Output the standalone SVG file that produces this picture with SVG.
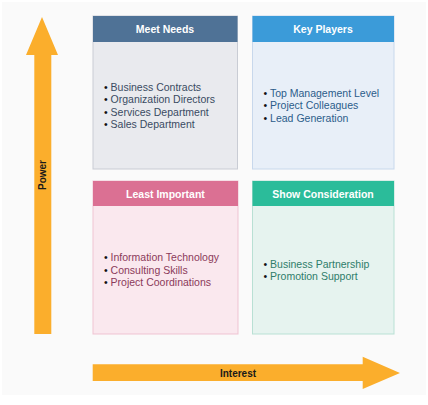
<svg xmlns="http://www.w3.org/2000/svg" width="428" height="405" viewBox="0 0 428 405">
  <style>
    .head { font-family: "Liberation Sans", Arial, sans-serif; font-size: 10.5px; font-weight: bold; fill: #ffffff; text-anchor: middle; }
    .item { font-family: "Liberation Sans", Arial, sans-serif; font-size: 10.5px; }
    .dot { fill: #111111; }
    .axis { font-family: "Liberation Sans", Arial, sans-serif; font-size: 10px; font-weight: bold; fill: #1a1a1a; text-anchor: middle; }
    .arrow { fill: #fbae2c; }
  </style>

  <rect x="0" y="0" width="428" height="405" fill="#ffffff"/>
  <rect x="2" y="2" width="424" height="393" fill="#fafafa"/>

  <!-- axes -->
  <g id="connectors">
    <g id="power-axis">
      <polygon class="arrow" points="42,17 58,55 51.3,55 51.3,334 34.3,334 34.3,55 26,55"/>
      <text class="axis" transform="translate(45.5,175) rotate(-90)">Power</text>
    </g>
    <g id="interest-axis">
      <polygon class="arrow" points="92.7,364.3 362.7,364.3 362.7,356.7 400,373 362.7,389 362.7,381 92.7,381"/>
      <text class="axis" x="238" y="376.5">Interest</text>
    </g>
  </g>

  <!-- quadrant: high power, low interest -->
  <g id="meet-needs">
    <rect x="93" y="16" width="144.5" height="153" fill="#e9eaee" stroke="#c9ccd4" stroke-width="1"/>
    <rect x="93" y="16" width="144.5" height="26" fill="#4f7296"/>
    <text class="head" x="165" y="32.5">Meet Needs</text>
    <g class="item" fill="#3a4a62">
      <text x="104" y="90.5"><tspan class="dot">•</tspan> Business Contracts</text>
      <text x="104" y="103"><tspan class="dot">•</tspan> Organization Directors</text>
      <text x="104" y="115.5"><tspan class="dot">•</tspan> Services Department</text>
      <text x="104" y="128"><tspan class="dot">•</tspan> Sales Department</text>
    </g>
  </g>

  <!-- quadrant: high power, high interest -->
  <g id="key-players">
    <rect x="252.5" y="16" width="141.5" height="153" fill="#e8eff8" stroke="#c8d8ec" stroke-width="1"/>
    <rect x="252.5" y="16" width="141.5" height="26" fill="#3b9bd9"/>
    <text class="head" x="323" y="32.5">Key Players</text>
    <g class="item" fill="#2b5c8a">
      <text x="263.5" y="96.5"><tspan class="dot">•</tspan> Top Management Level</text>
      <text x="263.5" y="109"><tspan class="dot">•</tspan> Project Colleagues</text>
      <text x="263.5" y="121.5"><tspan class="dot">•</tspan> Lead Generation</text>
    </g>
  </g>

  <!-- quadrant: low power, low interest -->
  <g id="least-important">
    <rect x="93" y="181" width="145" height="153" fill="#fae8ee" stroke="#efc3d2" stroke-width="1"/>
    <rect x="93" y="181" width="145" height="25" fill="#db7093"/>
    <text class="head" x="165.5" y="197.5">Least Important</text>
    <g class="item" fill="#8b3a5a">
      <text x="104" y="261"><tspan class="dot">•</tspan> Information Technology</text>
      <text x="104" y="273.5"><tspan class="dot">•</tspan> Consulting Skills</text>
      <text x="104" y="286"><tspan class="dot">•</tspan> Project Coordinations</text>
    </g>
  </g>

  <!-- quadrant: low power, high interest -->
  <g id="show-consideration">
    <rect x="252.5" y="181" width="141.5" height="153" fill="#e6f3ef" stroke="#b9e0d4" stroke-width="1"/>
    <rect x="252.5" y="181" width="141.5" height="25" fill="#2bbc9a"/>
    <text class="head" x="323" y="197.5">Show Consideration</text>
    <g class="item" fill="#2e7d6a">
      <text x="263.5" y="267.5"><tspan class="dot">•</tspan> Business Partnership</text>
      <text x="263.5" y="280"><tspan class="dot">•</tspan> Promotion Support</text>
    </g>
  </g>
</svg>
